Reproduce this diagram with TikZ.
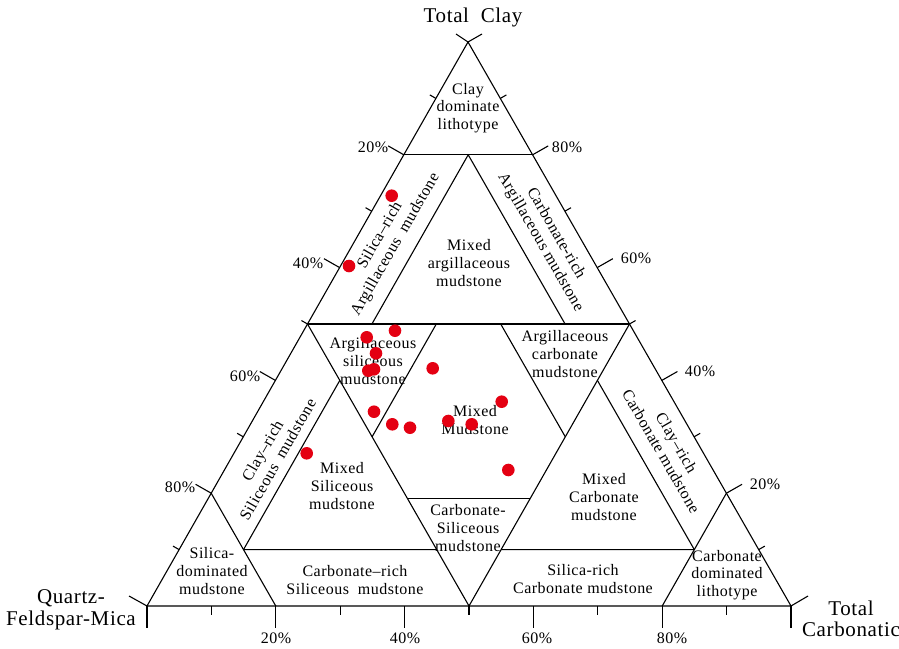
\documentclass[tikz,border=0pt]{standalone}
\usepackage{fontspec}
\setmainfont{Liberation Serif}
\newfontfamily\lblfont[LetterSpace=3]{Liberation Serif}
\usetikzlibrary{calc}
\definecolor{dotred}{RGB}{228,0,18}
\begin{document}
\begin{tikzpicture}[x=1pt,y=-1pt,
  edge/.style={line width=1.1pt, black, line join=round},
  lbl/.style={align=center, inner sep=0pt, font=\lblfont\fontsize{16}{17.8}\selectfont},
  pct/.style={inner sep=0pt, font=\lblfont\fontsize{16}{18}\selectfont},
  vtx/.style={align=center, inner sep=0pt, font=\lblfont\fontsize{21}{21.5}\selectfont},
  dot/.style={circle, fill=dotred, minimum size=12.6pt, inner sep=0pt}]
\useasboundingbox[fill=white] (0,0) rectangle (899,648);
% vertices
\coordinate (T) at (468,42);
\coordinate (L) at (147,606);
\coordinate (R) at (791,606);
% helper points (L = quartz-feldspar-mica, T = clay, R = carbonate)
\coordinate (A1) at (barycentric cs:L=0.2,T=0.8,R=0);
\coordinate (A2) at (barycentric cs:L=0,T=0.8,R=0.2);
\coordinate (B1) at (barycentric cs:L=0.5,T=0.5,R=0);
\coordinate (B2) at (barycentric cs:L=0,T=0.5,R=0.5);
\coordinate (M0) at (barycentric cs:L=0.1,T=0.8,R=0.1);
\coordinate (M1) at (barycentric cs:L=0.4,T=0.5,R=0.1);
\coordinate (M2) at (barycentric cs:L=0.1,T=0.5,R=0.4);
\coordinate (D)  at (barycentric cs:L=0.5,T=0,R=0.5);
\coordinate (E1) at (barycentric cs:L=0.3,T=0.5,R=0.2);
\coordinate (E2) at (barycentric cs:L=0.5,T=0.3,R=0.2);
\coordinate (F1) at (barycentric cs:L=0.2,T=0.5,R=0.3);
\coordinate (F2) at (barycentric cs:L=0.2,T=0.3,R=0.5);
\coordinate (G1) at (barycentric cs:L=0.5,T=0.19,R=0.31);
\coordinate (G2) at (barycentric cs:L=0.31,T=0.19,R=0.5);
\coordinate (H1) at (barycentric cs:L=0.5,T=0.4,R=0.1);
\coordinate (H2) at (barycentric cs:L=0.8,T=0.1,R=0.1);
\coordinate (I1) at (barycentric cs:L=0.1,T=0.4,R=0.5);
\coordinate (I2) at (barycentric cs:L=0.1,T=0.1,R=0.8);
\coordinate (J1) at (barycentric cs:L=0.5,T=0.1,R=0.4);
\coordinate (J2) at (barycentric cs:L=0.4,T=0.1,R=0.5);
\coordinate (K1) at (barycentric cs:L=0.8,T=0.2,R=0);
\coordinate (K2) at (barycentric cs:L=0.8,T=0,R=0.2);
\coordinate (N1) at (barycentric cs:L=0,T=0.2,R=0.8);
\coordinate (N2) at (barycentric cs:L=0.2,T=0,R=0.8);
% outline and field boundaries
\draw[edge] (L) -- (T) -- (R) -- cycle;
\draw[edge] (A1) -- (A2);
\draw[edge] (B1) -- (B2);
\draw[edge] (M1) -- (M0) -- (M2);
\draw[edge] (B1) -- (D) -- (B2);
\draw[edge] (E1) -- (E2);
\draw[edge] (F1) -- (F2);
\draw[edge] (G1) -- (G2);
\draw[edge] (H1) -- (H2) -- (J1);
\draw[edge] (I1) -- (I2) -- (J2);
\draw[edge] (K1) -- (K2);
\draw[edge] (N1) -- (N2);
% ticks
\foreach \c in {0.1,0.3,0.5,0.7,0.9} {
  \draw[edge] ($(L)!\c!(T)$) -- ++(-6.1,-3.5);
  \draw[edge] ($(R)!\c!(T)$) -- ++(6.1,-3.5);
  \draw[edge] ($(L)!\c!(R)$) -- ++(0,9);
}
\foreach \c in {0.2,0.4,0.6,0.8} {
  \draw[edge] ($(L)!\c!(T)$) -- ++(-15.6,-8.9);
  \draw[edge] ($(R)!\c!(T)$) -- ++(15.6,-8.9);
  \draw[edge] ($(L)!\c!(R)$) -- ++(0,22);
}
\draw[edge] (T) -- ++(-12,-8);
\draw[edge] (T) -- ++(14,-8);
\draw[edge] (L) -- ++(-18,-10);
\draw[edge] (L) -- ++(0,22);
\draw[edge] (R) -- ++(17,-10);
\draw[edge] (R) -- ++(0,22);
% vertex labels
\node[vtx] (vc) at (473,17) {Total\ \ Clay};
\node[vtx] (vq) at (71,610) {Quartz-\\Feldspar-Mica};
\node[vtx] (vk) at (851,619) {Total\\Carbonatic};
% percent labels
\node[pct] (l20) at (373,147) {20\%};
\node[pct] (l40) at (308,263) {40\%};
\node[pct] (l60) at (245,376) {60\%};
\node[pct] (l80) at (180,487) {80\%};
\node[pct] (r80) at (567,147) {80\%};
\node[pct] (r60) at (636,258) {60\%};
\node[pct] (r40) at (700,371) {40\%};
\node[pct] (r20) at (765,484) {20\%};
\node[pct] (b20) at (276,638) {20\%};
\node[pct] (b40) at (405,638) {40\%};
\node[pct] (b60) at (537,638) {60\%};
\node[pct] (b80) at (672,638) {80\%};
% field labels
\node[lbl] (f1) at (468,108) {Clay\\dominate\\lithotype};
\node[lbl, rotate=60] (f2) at (388,240) {Silica–rich\\Argillaceous\ \ mudstone};
\node[lbl] (f3) at (469,263) {Mixed\\argillaceous\\mudstone};
\node[lbl, rotate=-60] (f4) at (548,238) {Carbonate-rich\\Argillaceous mudstone};
\node[lbl] (f5) at (373,361) {Argillaceous\\siliceous\\mudstone};
\node[lbl] (f6) at (565,354) {Argillaceous\\carbonate\\mudstone};
\node[lbl] (f7) at (475,420) {Mixed\\Mudstone};
\node[lbl, rotate=60] (f8) at (270,455) {Clay–rich\\Siliceous\ \ mudstone};
\node[lbl, rotate=-60] (f9) at (669,447) {Clay–rich\\Carbonate mudstone};
\node[lbl] (f10) at (342,486) {Mixed\\Siliceous\\mudstone};
\node[lbl] (f11) at (604,497) {Mixed\\Carbonate\\mudstone};
\node[lbl] (f12) at (468,528) {Carbonate-\\Siliceous\\mudstone};
\node[lbl] (f13) at (212,571) {Silica-\\dominated\\mudstone};
\node[lbl] (f14) at (355,580) {Carbonate–rich\\Siliceous\ \ mudstone};
\node[lbl] (f15) at (583,579) {Silica-rich\\Carbonate mudstone};
\node[lbl] (f16) at (727,575) {Carbonate\\dominated\\lithotype};
% samples
\foreach \x/\y [count=\i] in {391.7/195.7, 349/266, 366.7/337.3, 395/330.7, 376/353.3, 368.3/370.7, 374/369.3, 432.7/368.3, 374/411.7, 392.3/424.3, 410/427.7, 448.3/421, 471.7/424.3, 501.7/401.7, 508.3/470, 306.7/453.3}
  \node[dot] (s\i) at (\x,\y) {};
\end{tikzpicture}
\end{document}
